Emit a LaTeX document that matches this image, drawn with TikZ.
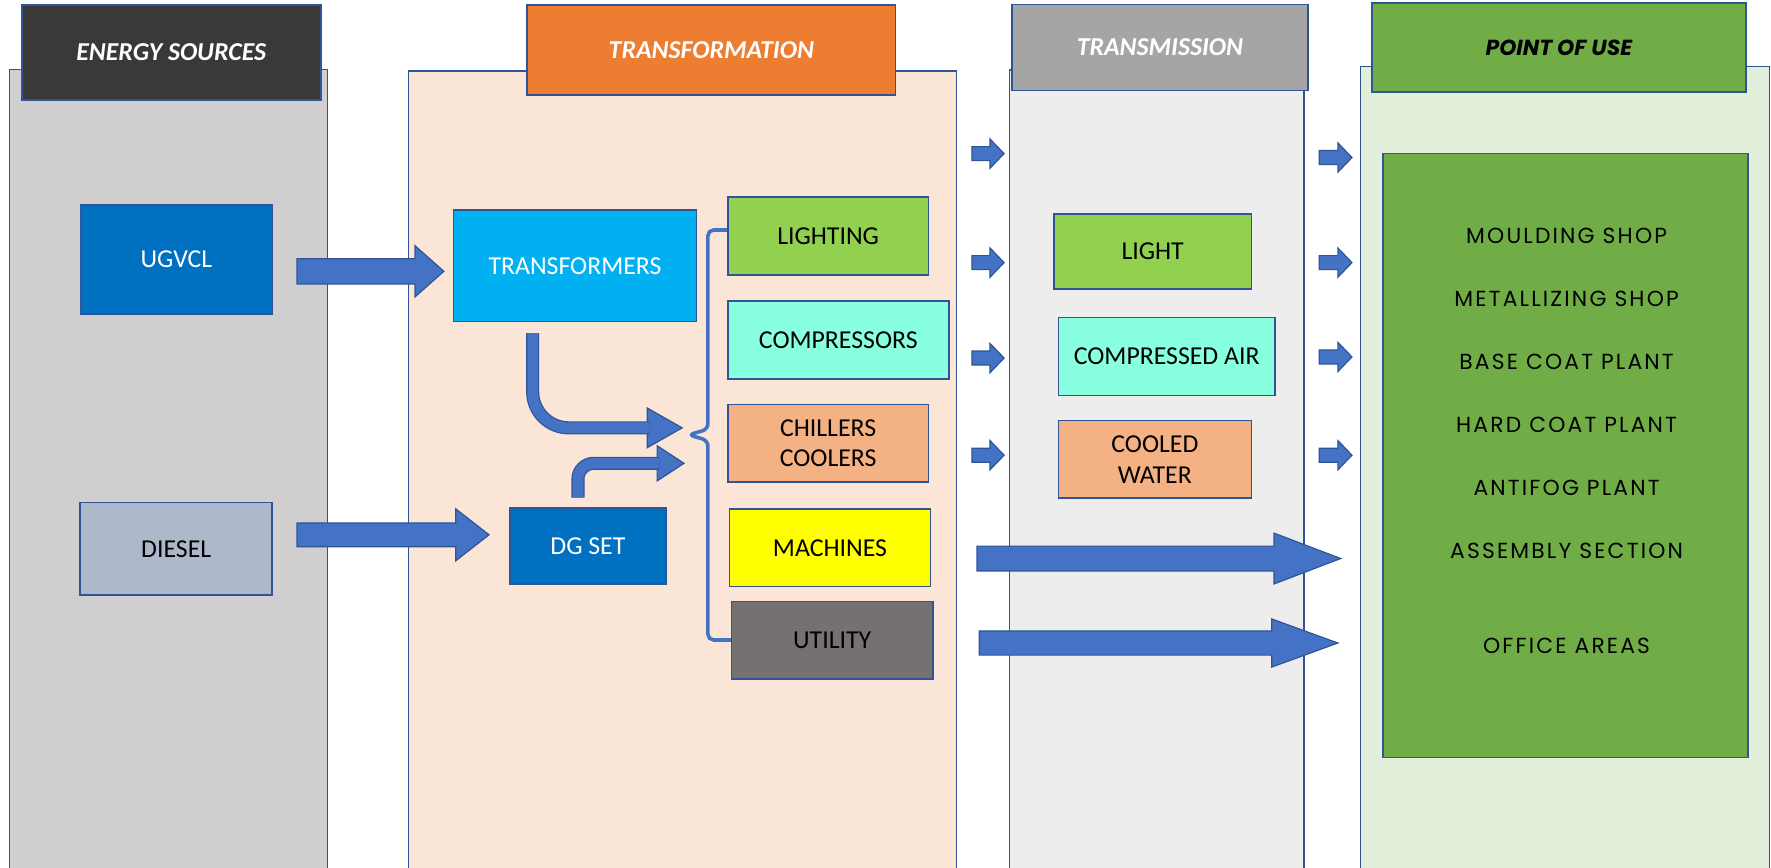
\documentclass[tikz,border=0pt]{standalone}
\usepackage{fontspec}
\setmainfont{Carlito}
\newfontfamily\gothic{Poppins}
\newfontfamily\gothicwide[LetterSpace=10]{Poppins}
\usepackage{tikz}
\usetikzlibrary{calc}

\definecolor{edge}{HTML}{2F5597}
\definecolor{arrowblue}{HTML}{4472C4}
\definecolor{srcgrey}{HTML}{D0CECE}
\definecolor{srcdark}{HTML}{3B3838}
\definecolor{trfpeach}{HTML}{FBE5D6}
\definecolor{trforange}{HTML}{ED7D31}
\definecolor{trngrey}{HTML}{EDEDED}
\definecolor{trnhead}{HTML}{A5A5A5}
\definecolor{usepale}{HTML}{E2EFDA}
\definecolor{usegreen}{HTML}{70AD47}
\definecolor{gridblue}{HTML}{0070C0}
\definecolor{dieselgrey}{HTML}{ADB9CA}
\definecolor{skyblue}{HTML}{00B0F0}
\definecolor{lightgreen}{HTML}{92D050}
\definecolor{airaqua}{HTML}{88FFDF}
\definecolor{chillpeach}{HTML}{F4B183}
\definecolor{machyellow}{HTML}{FFFF00}
\definecolor{utilgrey}{HTML}{767171}

\newlength\unitpx
\setlength\unitpx{0.02cm}

\tikzset{
  panel/.style={draw=edge, line width=0.6pt},
  header/.style={draw=edge, line width=0.8pt, inner sep=0pt,
    font=\fontsize{13}{15}\selectfont\bfseries\itshape},
  box/.style={draw=edge, line width=0.8pt, inner sep=0pt, align=center,
    font=\fontsize{13}{15.5}\selectfont},
  fatarrow/.style={fill=arrowblue, draw=edge, line width=0.6pt, line join=miter},
  bentshaft/.style={draw=edge, line width=0.6pt, double=arrowblue,
    double distance=9.5\unitpx},
  bracket/.style={draw=arrowblue, line width=1.8pt, rounded corners=5\unitpx},
  shopname/.style={font=\gothicwide\fontsize{11}{13}\selectfont}
}

% straight block arrow: start, tip, half shaft, half head, head length
\newcommand{\blockarrow}[5]{%
  \filldraw[fatarrow] ($(#1)+(0,#3)$) -- ($(#2)+(-#5,#3)$) -- ($(#2)+(-#5,#4)$)
    -- (#2) -- ($(#2)+(-#5,-#4)$) -- ($(#2)+(-#5,-#3)$) -- ($(#1)+(0,-#3)$) -- cycle;}

\begin{document}
\begin{tikzpicture}[x=0.02cm, y=-0.02cm]
  \useasboundingbox (0,0) rectangle (1568,768);
  \clip (0,0) rectangle (1568,768);

  % columns
  \draw[panel, fill=srcgrey] (8.5,61.4) rectangle (289.7,780);
  \draw[panel, fill=trfpeach] (361.9,62.9) rectangle (846.5,780);
  \draw[panel, fill=trngrey] (894,62) rectangle (1154.5,780);
  \draw[panel, fill=usepale] (1204.7,59) rectangle (1566.5,780);

  \node[header, fill=srcdark, text=white, minimum width=264.7\unitpx, minimum height=84\unitpx] (hsrc) at (151.6,46.5) {ENERGY SOURCES};
  \node[header, fill=trforange, text=white, minimum width=326.4\unitpx, minimum height=79.6\unitpx] (htrf) at (629.8,44.2) {TRANSFORMATION};
  \node[header, fill=trnhead, text=white, minimum width=262\unitpx, minimum height=76\unitpx] (htrn) at (1027,42) {TRANSMISSION};
  \node[header, fill=usegreen, text=black, minimum width=331.2\unitpx, minimum height=79\unitpx,
    font=\gothic\fontsize{11}{13}\selectfont\bfseries\itshape] (huse) at (1380.2,42) {POINT OF USE};

  % bracket over the loads
  \coordinate (fork) at (609.6,385);
  \draw[bracket] (644.5,203.6) -| (626.8,380) -- (fork) -- (626.8,390) |- (647.6,566.6);

  % sources
  \node[box, fill=gridblue, text=white, minimum width=170\unitpx, minimum height=96.5\unitpx] (ugvcl) at (156.2,229.8) {UGVCL};
  \node[box, fill=dieselgrey, minimum width=170\unitpx, minimum height=82\unitpx] (diesel) at (156,486) {DIESEL};

  % transformation
  \node[box, fill=skyblue, text=white, minimum width=215\unitpx, minimum height=98.8\unitpx] (trafo) at (509.1,235.4) {TRANSFORMERS};
  \node[box, fill=gridblue, text=white, minimum width=138\unitpx, minimum height=67\unitpx] (dgset) at (520.5,483.5) {DG SET};
  \node[box, fill=lightgreen, minimum width=177.5\unitpx, minimum height=68.8\unitpx] (lighting) at (733.2,209) {LIGHTING};
  \node[box, fill=airaqua, minimum width=195.5\unitpx, minimum height=69\unitpx] (compressors) at (742.2,301) {COMPRESSORS};
  \node[box, fill=chillpeach, minimum width=177.5\unitpx, minimum height=69\unitpx] (chillers) at (733.2,392.5) {CHILLERS\\COOLERS};
  \node[box, fill=machyellow, minimum width=177.7\unitpx, minimum height=68.8\unitpx] (machines) at (734.8,485) {MACHINES};
  \node[box, fill=utilgrey, minimum width=178.4\unitpx, minimum height=68.7\unitpx] (utility) at (736.8,567) {UTILITY};

  % transmission
  \node[box, fill=lightgreen, minimum width=175\unitpx, minimum height=66.5\unitpx] (light) at (1020.5,222.7) {LIGHT};
  \node[box, fill=airaqua, minimum width=192\unitpx, minimum height=69\unitpx] (air) at (1033,315.5) {COMPRESSED AIR};
  \node[box, fill=chillpeach, minimum width=171\unitpx, minimum height=68.5\unitpx] (water) at (1022.5,406.7) {COOLED\\WATER};

  % point of use
  \node[box, fill=usegreen, minimum width=323\unitpx, minimum height=534.7\unitpx] (shops) at (1386,403.4) {};
  \foreach \y/\shop [count=\i] in {209/MOULDING SHOP, 264.5/METALLIZING SHOP, 320.5/BASE COAT PLANT,
      376/HARD COAT PLANT, 432/ANTIFOG PLANT, 487.5/ASSEMBLY SECTION, 572/OFFICE AREAS}
    \node[shopname] (use\i) at (1387,\y) {\shop};

  % feeds
  \coordinate (ug-a) at (263,240.2);   \coordinate (ug-b) at (393,240.2);
  \coordinate (dz-a) at (263,473.5);   \coordinate (dz-b) at (433,473.5);
  \blockarrow{ug-a}{ug-b}{11.2}{22.6}{25.5}
  \blockarrow{dz-a}{dz-b}{10.5}{23}{29.5}

  % bent arrows into the bracket
  \filldraw[fatarrow] (573,361.2) -- (604,378.8) -- (573,396.4) -- cycle;
  \draw[bentshaft, rounded corners=32\unitpx] (471.6,295) -- (471.6,378.8) -- (575,378.8);
  \filldraw[fatarrow] (581.8,394.6) -- (605.6,410.2) -- (581.8,425.8) -- cycle;
  \draw[bentshaft, rounded corners=14\unitpx] (511.7,440.6) -- (511.7,410.2) -- (583.8,410.2);

  % small arrows either side of the transmission column
  \foreach \y [count=\i] in {136,232.5,317,403} {
    \coordinate (tin\i) at (860.5,\y); \coordinate (tout\i) at (889,\y);
    \blockarrow{tin\i}{tout\i}{6.2}{13}{12.5}
  }
  \foreach \y [count=\i] in {139.5,232.5,316,403} {
    \coordinate (uin\i) at (1168,\y); \coordinate (uout\i) at (1197,\y);
    \blockarrow{uin\i}{uout\i}{6.2}{13}{12.5}
  }

  % long arrows straight to point of use
  \coordinate (mc-a) at (865,494.5);   \coordinate (mc-b) at (1187,494.5);
  \coordinate (ut-a) at (867,569.3);   \coordinate (ut-b) at (1184.5,569.3);
  \blockarrow{mc-a}{mc-b}{11}{22.5}{59}
  \blockarrow{ut-a}{ut-b}{10.7}{21.3}{58.5}
\end{tikzpicture}
\end{document}
